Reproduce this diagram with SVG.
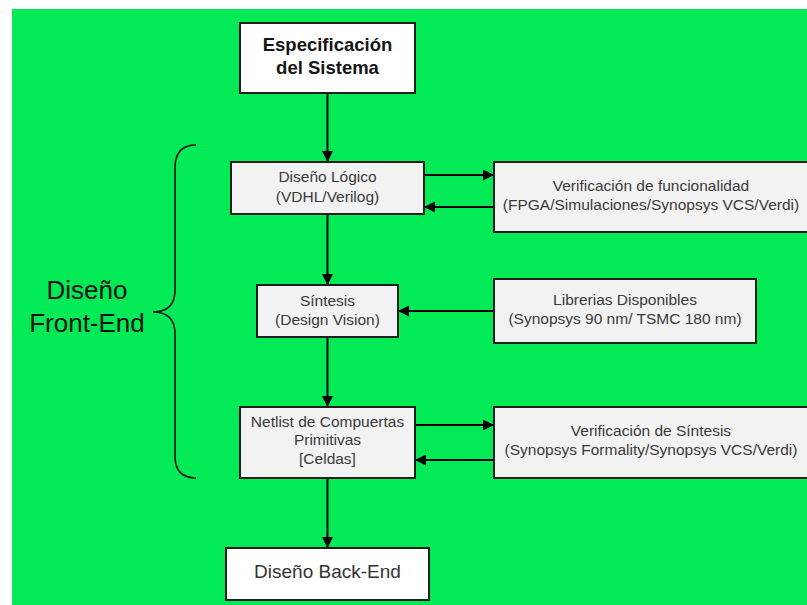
<svg xmlns="http://www.w3.org/2000/svg" width="807" height="605" viewBox="0 0 807 605">
  <style>
    .box { stroke: #1e1e1e; stroke-width: 2; }
    .white { fill: #ffffff; }
    .grey { fill: #f2f2f2; }
    .title { font-family: "Liberation Sans", Arial, sans-serif; font-weight: bold; font-size: 18.5px; fill: #151515; text-anchor: middle; }
    .lbl { font-family: "Liberation Sans", Arial, sans-serif; font-size: 15.5px; fill: #3a3a3a; text-anchor: middle; }
    .big { font-family: "Liberation Sans", Arial, sans-serif; font-size: 26px; fill: #111111; text-anchor: middle; }
    .end { font-family: "Liberation Sans", Arial, sans-serif; font-size: 19px; fill: #333333; text-anchor: middle; }
    .conn { stroke: #000000; stroke-width: 2; fill: none; marker-end: url(#arrow); }
    .brace { stroke: #111111; stroke-width: 1.6; fill: none; }
  </style>
  <defs>
    <marker id="arrow" viewBox="0 0 10 10" refX="10" refY="5" markerWidth="5.5" markerHeight="5.5" orient="auto" markerUnits="strokeWidth">
      <path d="M0,0 L10,5 L0,10 Z" fill="#000000"/>
    </marker>
  </defs>

  <!-- background -->
  <rect x="12" y="9" width="795" height="596" fill="#02ea56"/>

  <!-- front-end bracket and label -->
  <g id="front-end">
    <path class="brace" d="M196,145 Q175,145 175,168 L175,290 Q175,312 153,312 Q175,312 175,334 L175,456 Q175,478 196,478"/>
    <text class="big" x="87" y="299">Diseño</text>
    <text class="big" x="87" y="332">Front-End</text>
  </g>

  <!-- connectors -->
  <g id="connectors">
    <line class="conn" x1="327.5" y1="93" x2="327.5" y2="162"/>
    <line class="conn" x1="424" y1="175" x2="494" y2="175"/>
    <line class="conn" x1="494" y1="207" x2="424" y2="207"/>
    <line class="conn" x1="327.5" y1="214" x2="327.5" y2="285"/>
    <line class="conn" x1="494" y1="311" x2="398" y2="311"/>
    <line class="conn" x1="327.5" y1="337" x2="327.5" y2="407"/>
    <line class="conn" x1="415" y1="425" x2="494" y2="425"/>
    <line class="conn" x1="494" y1="460" x2="415" y2="460"/>
    <line class="conn" x1="327.5" y1="478" x2="327.5" y2="548"/>
  </g>

  <g id="especificacion">
    <rect class="box white" x="240" y="23" width="175" height="70"/>
    <text class="title" x="327.5" y="51">Especificación</text>
    <text class="title" x="327.5" y="74">del Sistema</text>
  </g>

  <g id="diseno-logico">
    <rect class="box grey" x="231" y="162" width="193" height="52"/>
    <text class="lbl" x="327.5" y="182">Diseño Lógico</text>
    <text class="lbl" x="327.5" y="201.5">(VDHL/Verilog)</text>
  </g>

  <g id="verif-funcionalidad">
    <rect class="box grey" x="494" y="162" width="316" height="70"/>
    <text class="lbl" x="651" y="190.5">Verificación de funcionalidad</text>
    <text class="lbl" x="651" y="210">(FPGA/Simulaciones/Synopsys VCS/Verdi)</text>
  </g>

  <g id="sintesis">
    <rect class="box grey" x="257" y="285" width="141" height="52"/>
    <text class="lbl" x="327.5" y="305.5">Síntesis</text>
    <text class="lbl" x="327.5" y="324.5">(Design Vision)</text>
  </g>

  <g id="librerias">
    <rect class="box grey" x="494" y="279" width="262" height="64"/>
    <text class="lbl" x="625" y="305">Librerias Disponibles</text>
    <text class="lbl" x="625" y="323.5">(Synopsys 90 nm/ TSMC 180 nm)</text>
  </g>

  <g id="netlist">
    <rect class="box grey" x="240" y="407" width="175" height="71"/>
    <text class="lbl" x="327.5" y="426.5">Netlist de Compuertas</text>
    <text class="lbl" x="327.5" y="445">Primitivas</text>
    <text class="lbl" x="327.5" y="463.5">[Celdas]</text>
  </g>

  <g id="verif-sintesis">
    <rect class="box grey" x="494" y="407" width="316" height="71"/>
    <text class="lbl" x="651" y="435.5">Verificación de Síntesis</text>
    <text class="lbl" x="651" y="455">(Synopsys Formality/Synopsys VCS/Verdi)</text>
  </g>

  <g id="back-end">
    <rect class="box white" x="226" y="548" width="203" height="52"/>
    <text class="end" x="327.5" y="578">Diseño Back-End</text>
  </g>
</svg>
